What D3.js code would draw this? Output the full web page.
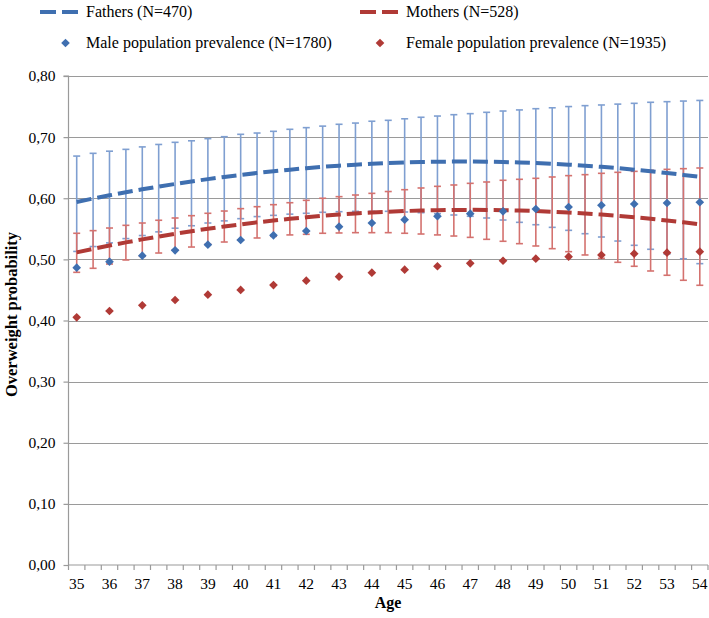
<!DOCTYPE html>
<html><head><meta charset="utf-8">
<script src="https://cdn.jsdelivr.net/npm/d3@7"></script>
<style>body{margin:0;background:#fff}svg{display:block}</style>
</head><body><svg id="c" width="709" height="618"></svg>
<script>
const categories = [35,35.5,36,36.5,37,37.5,38,38.5,39,39.5,40,40.5,41,41.5,42,42.5,43,43.5,44,44.5,45,45.5,46,46.5,47,47.5,48,48.5,49,49.5,50,50.5,51,51.5,52,52.5,53,53.5,54];
const fathersFit = [0.594,0.5995,0.6048,0.6098,0.6146,0.6191,0.6234,0.6275,0.6313,0.6349,0.6382,0.6413,0.6442,0.6468,0.6492,0.6514,0.6533,0.6550,0.6564,0.6576,0.6585,0.6593,0.6597,0.660,0.660,0.6597,0.6593,0.6585,0.6576,0.6564,0.6550,0.6533,0.6514,0.6492,0.6468,0.6442,0.6413,0.6382,0.6349];
const fathersUpper = [0.669,0.6735,0.677,0.680,0.684,0.688,0.6915,0.694,0.6975,0.7007,0.7046,0.7067,0.7095,0.7128,0.7155,0.718,0.721,0.723,0.726,0.7275,0.730,0.7325,0.7345,0.7367,0.7384,0.7406,0.7427,0.7445,0.7465,0.748,0.750,0.7515,0.7526,0.754,0.7553,0.757,0.758,0.759,0.760];
const fathersLower = [0.513,0.521,0.527,0.534,0.539,0.545,0.551,0.555,0.5595,0.563,0.5666,0.570,0.572,0.574,0.5754,0.577,0.578,0.5786,0.5786,0.5786,0.5775,0.5764,0.5748,0.5726,0.5705,0.5677,0.5644,0.5606,0.5567,0.5524,0.5475,0.542,0.5366,0.530,0.523,0.5165,0.5088,0.501,0.493];
const mothersFit = [0.5115,0.5171,0.5226,0.5278,0.5327,0.5374,0.5419,0.5461,0.5501,0.5538,0.5573,0.5606,0.5636,0.5664,0.5689,0.5712,0.5733,0.5751,0.5767,0.5780,0.5791,0.5799,0.5805,0.5809,0.5810,0.5809,0.5805,0.5799,0.5791,0.5780,0.5767,0.5751,0.5733,0.5712,0.5689,0.5664,0.5636,0.5606,0.5573];
const mothersUpper = [0.5427,0.547,0.5513,0.5557,0.5595,0.564,0.5677,0.5715,0.5754,0.5791,0.583,0.5862,0.5895,0.5927,0.5966,0.600,0.6026,0.6053,0.608,0.611,0.614,0.6168,0.6195,0.6217,0.6244,0.6266,0.6294,0.631,0.6326,0.6348,0.637,0.6386,0.6408,0.6424,0.644,0.6457,0.6473,0.6484,0.6495];
const mothersLower = [0.4788,0.4854,0.4924,0.499,0.505,0.5104,0.5153,0.5202,0.5247,0.5284,0.5317,0.535,0.5377,0.540,0.541,0.5427,0.5432,0.5437,0.5437,0.5437,0.5427,0.5415,0.540,0.5382,0.536,0.5328,0.5296,0.5257,0.5219,0.5175,0.5126,0.5072,0.5017,0.4952,0.4887,0.481,0.474,0.4658,0.4576];
const prevalenceAges = [35,36,37,38,39,40,41,42,43,44,45,46,47,48,49,50,51,52,53,54];
const malePrevalence = [0.4864,0.4962,0.506,0.5148,0.524,0.5317,0.5394,0.5464,0.5535,0.5595,0.565,0.5705,0.5748,0.5786,0.5824,0.5857,0.5885,0.5906,0.5922,0.5934];
const femalePrevalence = [0.4052,0.4155,0.4248,0.4335,0.4422,0.450,0.458,0.4651,0.4717,0.4782,0.4831,0.4887,0.4936,0.4978,0.5011,0.5044,0.5072,0.5093,0.511,0.5126];
const yTicks = [0,0.1,0.2,0.3,0.4,0.5,0.6,0.7,0.8];
const xLabels = ["35","36","37","38","39","40","41","42","43","44","45","46","47","48","49","50","51","52","53","54"];
const seriesNames = ["Fathers (N=470)","Mothers (N=528)","Male population prevalence (N=1780)","Female population prevalence (N=1935)"];

const FONT = "'Liberation Serif', 'DejaVu Serif', serif";
const BLUE = "#3f6fb0", RED = "#b03a36", BLUE_BAR = "#7f9fd1", RED_BAR = "#d4726f", GRID = "#9a9a9a";
const svg = d3.select("#c").style("font-family", FONT);
const L = 68.5, R = 708, T = 76, B = 565;
const x = d3.scaleBand().domain(categories).range([L, R]).padding(0);
const y = d3.scaleLinear().domain([0, 0.8]).range([B, T]);
const cx = c => x(c) + x.bandwidth() / 2;

// gridlines
svg.append("g").selectAll("line").data(yTicks.slice(1)).join("line")
  .attr("x1", L).attr("x2", R).attr("y1", d => Math.round(y(d)) + 0.5).attr("y2", d => Math.round(y(d)) + 0.5)
  .attr("stroke", GRID).attr("stroke-width", 1.2);

// y axis
const yAxis = svg.append("g").attr("transform", `translate(${L},0)`)
  .call(d3.axisLeft(y).tickValues(yTicks).tickSize(5).tickPadding(8).tickFormat(d => d3.format(".2f")(d).replace(".", ",")));
yAxis.attr("font-family", null).attr("font-size", null);
yAxis.select(".domain").attr("stroke", GRID).attr("stroke-width", 1.2).attr("d", `M-5,${T}H0V${B}`);
yAxis.selectAll(".tick line").attr("stroke", GRID).attr("stroke-width", 1.2);
yAxis.selectAll("text").style("font-family", FONT).style("font-size", "15.5px").attr("fill", "#000");

// x axis
const xAxis = svg.append("g").attr("transform", `translate(0,${B})`)
  .call(d3.axisBottom(x).tickValues([]).tickSize(0));
xAxis.select(".domain").attr("stroke", GRID).attr("stroke-width", 1.2).attr("d", `M${L},0H${R}`);
svg.append("g").selectAll("line").data(categories.concat(["end"])).join("line")
  .attr("x1", (d, i) => L + i * x.bandwidth()).attr("x2", (d, i) => L + i * x.bandwidth())
  .attr("y1", B).attr("y2", B + 5).attr("stroke", GRID).attr("stroke-width", 1.2);
svg.append("g").selectAll("text").data(xLabels).join("text")
  .attr("x", d => cx(+d)).attr("y", B + 24).attr("text-anchor", "middle")
  .style("font-family", FONT).style("font-size", "15.5px").text(d => d);

// titles
svg.append("text").attr("x", 388).attr("y", 608).attr("text-anchor", "middle")
  .style("font-family", FONT).style("font-size", "16px").attr("font-weight", "bold").text("Age");
svg.append("text").attr("transform", `translate(17,${(T + B) / 2 - 6}) rotate(-90)`).attr("text-anchor", "middle")
  .style("font-family", FONT).style("font-size", "16.5px").attr("font-weight", "bold").text("Overweight probability");

// error bars
function errorBars(lower, upper, color) {
  const g = svg.append("g").attr("stroke", color).attr("stroke-width", 1.6);
  categories.forEach((c, i) => {
    const xc = cx(c);
    g.append("line").attr("x1", xc).attr("x2", xc).attr("y1", y(lower[i])).attr("y2", y(upper[i]));
    g.append("line").attr("x1", xc - 3.5).attr("x2", xc + 3.5).attr("y1", y(lower[i])).attr("y2", y(lower[i]));
    g.append("line").attr("x1", xc - 3.5).attr("x2", xc + 3.5).attr("y1", y(upper[i])).attr("y2", y(upper[i]));
  });
}
errorBars(fathersLower, fathersUpper, BLUE_BAR);
errorBars(mothersLower, mothersUpper, RED_BAR);

// fitted lines
const line = d3.line().x((d, i) => cx(categories[i])).y(d => y(d));
svg.append("path").datum(fathersFit).attr("d", line).attr("fill", "none")
  .attr("stroke", BLUE).attr("stroke-width", 4).attr("stroke-dasharray", "15,6");
svg.append("path").datum(mothersFit).attr("d", line).attr("fill", "none")
  .attr("stroke", RED).attr("stroke-width", 4).attr("stroke-dasharray", "15,6");

// prevalence diamonds
const diamond = d3.symbol().type(d3.symbolDiamond2).size(48);
svg.append("g").selectAll("path").data(malePrevalence).join("path")
  .attr("d", diamond).attr("fill", BLUE)
  .attr("transform", (d, i) => `translate(${cx(prevalenceAges[i])},${y(d)})`);
svg.append("g").selectAll("path").data(femalePrevalence).join("path")
  .attr("d", diamond).attr("fill", RED)
  .attr("transform", (d, i) => `translate(${cx(prevalenceAges[i])},${y(d)})`);

// legend
const leg = svg.append("g");
[[40, 12, BLUE, 0], [360, 12, RED, 1]].forEach(([lx, ly, col, k]) => {
  leg.append("line").attr("x1", lx).attr("x2", lx + 39).attr("y1", ly).attr("y2", ly)
    .attr("stroke", col).attr("stroke-width", 4).attr("stroke-dasharray", "16,6");
  leg.append("text").attr("x", lx + 46).attr("y", ly + 5)
    .style("font-family", FONT).style("font-size", "16px").text(seriesNames[k]);
});
[[65.5, 43, BLUE, 2], [380, 43, RED, 3]].forEach(([lx, ly, col, k]) => {
  leg.append("path").attr("d", diamond).attr("fill", col).attr("transform", `translate(${lx},${ly})`);
  leg.append("text").attr("x", lx + (k === 2 ? 20.5 : 26)).attr("y", ly + 5)
    .style("font-family", FONT).style("font-size", "16px").text(seriesNames[k]);
});
</script></body></html>
